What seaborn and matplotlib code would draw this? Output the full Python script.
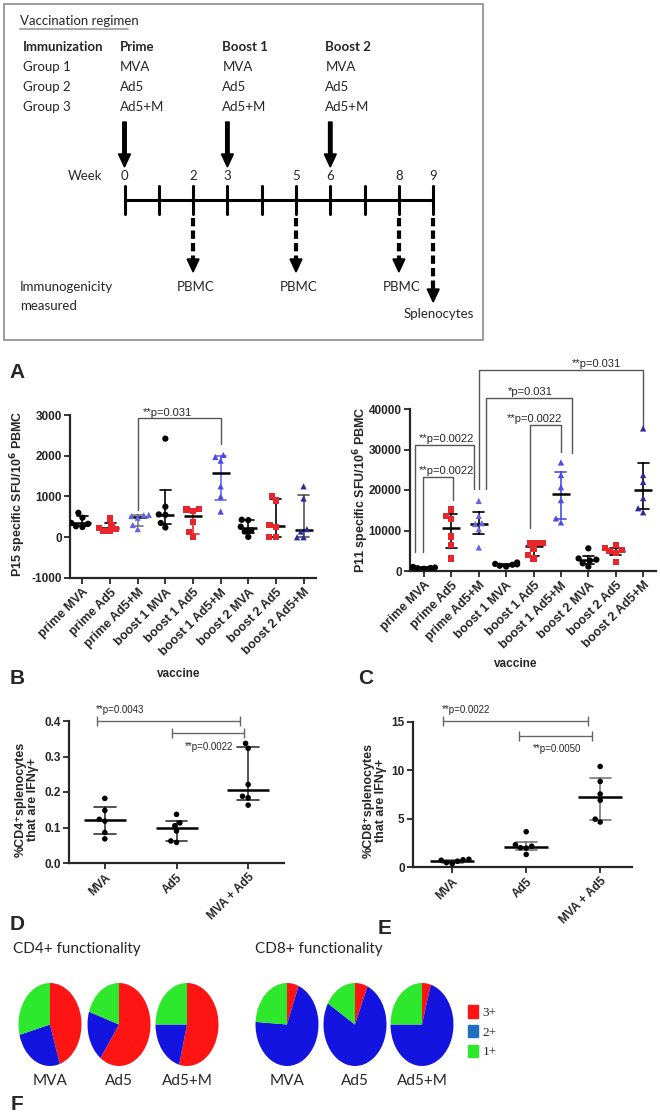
import matplotlib
matplotlib.use("Agg")
import matplotlib.pyplot as plt
import seaborn as sns
import numpy as np
import pandas as pd
from matplotlib.patches import Rectangle, Patch


# ---------------- data ----------------
groups = ["prime MVA", "prime Ad5", "prime Ad5+M",
          "boost 1 MVA", "boost 1 Ad5", "boost 1 Ad5+M",
          "boost 2 MVA", "boost 2 Ad5", "boost 2 Ad5+M"]

# P15 specific SFU / 10^6 PBMC (6 mice per group)
p15_values = [
    [600, 480, 350, 330, 270, 250],
    [460, 300, 230, 200, 160, 150],
    [550, 540, 520, 480, 300, 200],
    [2420, 750, 560, 550, 350, 240],
    [700, 680, 650, 380, 120, 0],
    [2020, 1970, 1880, 1250, 1000, 630],
    [430, 420, 260, 170, 140, 10],
    [1020, 900, 300, 260, 0, 0],
    [1250, 950, 200, 140, 0, 0],
]

# P11 specific SFU / 10^6 PBMC
p11_values = [
    [1000, 900, 850, 750, 700, 550],
    [15200, 13600, 12800, 8500, 6400, 3100],
    [17300, 13600, 11800, 11600, 10300, 5800],
    [2100, 1750, 1650, 1550, 1300, 1100],
    [7000, 6950, 6800, 5500, 4000, 3100],
    [26800, 23700, 20700, 17500, 13000, 12000],
    [5600, 3100, 2800, 2600, 1900, 1100],
    [6400, 5600, 5100, 4900, 4500, 2300],
    [35200, 23700, 22000, 18000, 15500, 14500],
]

spleen_groups = ["MVA", "Ad5", "MVA + Ad5"]
cd4_ifng = [[0.182, 0.148, 0.123, 0.118, 0.086, 0.068],
            [0.137, 0.113, 0.105, 0.090, 0.062, 0.058],
            [0.337, 0.323, 0.221, 0.188, 0.184, 0.163]]
cd8_ifng = [[0.80, 0.75, 0.70, 0.60, 0.45, 0.35],
            [3.65, 2.30, 2.15, 2.00, 1.95, 1.30],
            [10.4, 8.85, 7.55, 6.90, 4.95, 4.65]]

pie_groups = ["MVA", "Ad5", "Ad5+M"]
func_levels = ["3+", "2+", "1+"]
cd4_func = [[0.45, 0.26, 0.29], [0.60, 0.20, 0.20], [0.54, 0.21, 0.25]]
cd8_func = [[0.06, 0.70, 0.24], [0.065, 0.77, 0.165], [0.045, 0.705, 0.25]]

# vaccination schedule
regimen_groups = ["Group 1", "Group 2", "Group 3"]
regimen_vaccines = ["MVA", "Ad5", "Ad5+M"]
dose_names = ["Prime", "Boost 1", "Boost 2"]
dose_weeks = [0, 3, 6]
sample_weeks = [2, 5, 8, 9]
sample_names = ["PBMC", "PBMC", "PBMC", "Splenocytes"]
all_weeks = list(range(10))


# ---------------- style ----------------
sns.set_style("ticks")
plt.rcParams['font.family'] = ['Liberation Sans', 'DejaVu Sans']
plt.rcParams['axes.unicode_minus'] = False
NARROW = ['Lato', 'Liberation Sans', 'DejaVu Sans']

W, H = 660, 1113
fig = plt.figure(figsize=(W / 100, H / 100), dpi=100)


def px_axes(x0, y0, x1, y1):
    ax = fig.add_axes([x0 / W, 1 - y1 / H, (x1 - x0) / W, (y1 - y0) / H])
    ax.patch.set_alpha(0)
    return ax


def long_form(names, values, col):
    rows = [(n, v) for n, vals in zip(names, values) for v in vals]
    return pd.DataFrame(rows, columns=["vaccine", col])


def iqr(v):
    # GraphPad style quartiles
    return (np.percentile(v, 25, method="weibull"),
            np.percentile(v, 75, method="weibull"))


def scatter_panel(ax, df, col, order, point_colors, markers, err_colors,
                  med_size, capsize, dot_size=4.5):
    for m in dict.fromkeys(markers):
        keep = [g for g, mm in zip(order, markers) if mm == m]
        sub = df[df["vaccine"].isin(keep)]
        sns.swarmplot(data=sub, x="vaccine", y=col, order=order, hue="vaccine",
                      palette=dict(zip(order, point_colors)), marker=m,
                      size=dot_size, legend=False, ax=ax, zorder=3)
    sns.pointplot(data=df, x="vaccine", y=col, order=order, hue="vaccine",
                  palette=dict(zip(order, err_colors)), estimator="median",
                  errorbar=iqr, capsize=capsize, linestyle="none", markersize=0,
                  err_kws={"linewidth": 1.2}, legend=False, ax=ax)
    sns.pointplot(data=df, x="vaccine", y=col, order=order, color="black",
                  estimator="median", errorbar=None, linestyle="none",
                  marker="_", markersize=med_size, markeredgewidth=1.8, ax=ax)
    ax.set_xlabel("")


def style_axes(ax, order, fs_tick, fs_x):
    sns.despine(ax=ax)
    for s in ["left", "bottom"]:
        ax.spines[s].set_linewidth(1.6)
    ax.tick_params(width=1.3, length=4, labelsize=fs_tick, pad=2)
    ax.set_xticks(range(len(order)))
    ax.set_xticklabels(order, rotation=45, ha="right", rotation_mode="anchor",
                       fontweight="bold", fontsize=fs_x)
    for lab in ax.get_yticklabels():
        lab.set_fontweight("bold")


def bracket(ax, x1, x2, top, b1, b2, text, tx, fs=8):
    ax.plot([x1, x1, x2, x2], [b1, top, top, b2], color="#555555", lw=1.0,
            clip_on=False)
    ax.annotate(text, (tx, top), xytext=(0, 0.5), textcoords="offset points",
                ha="center", va="bottom", fontsize=fs, annotation_clip=False)


def span(ax, x1, x2, y, text, tx, ty, fs=7):
    ax.plot([x1, x2], [y, y], color="#666666", lw=1.0, marker="|",
            markersize=7, markeredgewidth=1.0, clip_on=False)
    ax.text(tx, ty, text, ha="center", va="center", fontsize=fs, clip_on=False)


mk = ["o", "s", "^"] * 3
pt_cols = ["black", "#e8262b", "#6464e6", "black", "#e8262b", "#4b4bea",
           "black", "#e8262b", "#2b2b9c"]

# ---------------- A (left): P15 ----------------
axA = px_axes(70, 415, 316, 578)
dfA = long_form(groups, p15_values, "sfu")
scatter_panel(axA, dfA, "sfu", groups, pt_cols, mk,
              ["black", "black", "#777777", "black", "#e8262b", "#6b6bef",
               "black", "black", "#555555"], med_size=13, capsize=0.4)
axA.set_ylim(-1000, 3000)
axA.set_yticks([-1000, 0, 1000, 2000, 3000])
axA.set_xlim(-0.45, 8.45)
style_axes(axA, groups, 8.5, 9)
axA.set_ylabel("P15 specific SFU/10$^{\\mathbf{6}}$ PBMC", fontweight="bold",
               fontsize=9)
axA.yaxis.set_label_coords(-0.17, 0.52)
axA.set_xlabel("vaccine", fontweight="bold", fontsize=8.5)
axA.xaxis.set_label_coords(0.44, -0.55)
bracket(axA, 2, 5, 2920, 660, 2300, "**p=0.031", 3.08)

# ---------------- A (right): P11 ----------------
axR = px_axes(410, 409, 656, 571)
dfR = long_form(groups, p11_values, "sfu")
scatter_panel(axR, dfR, "sfu", groups, pt_cols, mk,
              ["black"] * 5 + ["#4b4bea"] + ["black"] * 3,
              med_size=13, capsize=0.4)
axR.set_ylim(0, 40000)
axR.set_yticks([0, 10000, 20000, 30000, 40000])
axR.set_xlim(-0.51, 8.47)
style_axes(axR, groups, 8.5, 9)
axR.set_ylabel("P11 specific SFU/10$^{\\mathbf{6}}$ PBMC", fontweight="bold",
               fontsize=9)
axR.yaxis.set_label_coords(-0.16, 0.5)
axR.set_xlabel("vaccine", fontweight="bold", fontsize=8.5)
axR.xaxis.set_label_coords(0.43, -0.54)
bracket(axR, -0.04, 1.07, 23200, 4700, 17500, "**p=0.0022", 0.82)
bracket(axR, -0.33, 1.82, 31100, 4700, 20250, "**p=0.0022", 0.82)
bracket(axR, 2.0, 8.0, 49600, 20250, 35550, "**p=0.031", 6.3)
bracket(axR, 2.26, 5.39, 42700, 20250, 29100, "*p=0.031", 3.87)
bracket(axR, 3.87, 5.0, 36050, 10600, 29400, "**p=0.0022", 4.05)

# ---------------- B: CD4 ----------------
axB = px_axes(69, 721, 284, 863)
dfB = long_form(spleen_groups, cd4_ifng, "pct")
scatter_panel(axB, dfB, "pct", spleen_groups, ["black"] * 3, ["o"] * 3,
              ["#333333"] * 3, med_size=30, capsize=0.3, dot_size=4)
axB.set_ylim(0, 0.4)
axB.set_yticks([0, 0.1, 0.2, 0.3, 0.4])
axB.set_yticklabels(["0.0", "0.1", "0.2", "0.3", "0.4"])
axB.set_xlim(-0.5, 2.5)
style_axes(axB, spleen_groups, 8.5, 8.5)
axB.set_ylabel("%CD4⁺splenocytes\nthat are IFNγ+", fontweight="bold",
               fontsize=9, linespacing=1.0)
axB.yaxis.set_label_coords(-0.14, 0.45)
span(axB, -0.11, 1.89, 0.401, "**p=0.0043", 0.21, 0.432)
span(axB, 0.94, 1.94, 0.367, "**p=0.0022", 1.46, 0.327)

# ---------------- C: CD8 ----------------
axC = px_axes(413, 722, 632, 867)
dfC = long_form(spleen_groups, cd8_ifng, "pct")
scatter_panel(axC, dfC, "pct", spleen_groups, ["black"] * 3, ["o"] * 3,
              ["#777777"] * 3, med_size=32, capsize=0.28, dot_size=4)
axC.set_ylim(0, 15)
axC.set_yticks([0, 5, 10, 15])
axC.set_xlim(-0.53, 2.43)
style_axes(axC, spleen_groups, 8.5, 8.5)
axC.set_ylabel("%CD8⁺splenocytes\nthat are IFNγ+", fontweight="bold",
               fontsize=9, linespacing=1.0)
axC.yaxis.set_label_coords(-0.12, 0.46)
span(axC, -0.13, 1.84, 15.06, "**p=0.0022", 0.19, 16.2)
span(axC, 0.9, 1.89, 13.58, "**p=0.0050", 1.42, 12.2)

# ---------------- D / E: pies ----------------
pie_colors = ["#ff1414", "#1414e0", "#2ee82e"]
legend_colors = ["#ff1414", "#1f6fc0", "#2ee82e"]
pie_x = {"CD4": [50, 119, 187], "CD8": [287, 355, 422]}
for key, fracs in [("CD4", cd4_func), ("CD8", cd8_func)]:
    for cx, frac, name in zip(pie_x[key], fracs, pie_groups):
        ax = px_axes(cx - 31.5, 983, cx + 31.5, 1066)
        ax.pie(frac, colors=pie_colors, startangle=90, counterclock=False,
               wedgeprops=dict(linewidth=0))
        ax.set_aspect("auto")
        ax.set_xlim(-1, 1)
        ax.set_ylim(-1, 1)
        ax.text(0.5, -0.18, name, transform=ax.transAxes, ha="center",
                va="center", fontsize=11, family=NARROW)

fig.legend(handles=[Patch(color=c) for c in legend_colors], labels=func_levels,
           loc="upper left", bbox_to_anchor=(468 / W, 1 - 1005 / H),
           frameon=False, prop={"family": "Liberation Serif", "size": 9.5},
           handlelength=0.75, handleheight=1.1, labelspacing=0.45,
           handletextpad=0.35, borderpad=0, borderaxespad=0)

# ---------------- overlay: schematic, letters, titles ----------------
ax0 = fig.add_axes([0, 0, 1, 1])
ax0.set_xlim(0, W)
ax0.set_ylim(H, 0)
ax0.axis("off")
ax0.patch.set_alpha(0)


def wx(w):
    return 124.5 + 34.3 * w


ax0.add_patch(Rectangle((4, 4), 479, 336, fill=False, ec="#8c8c8c", lw=1.2))
txt = dict(family=NARROW, fontsize=9.5, va="center")
ax0.text(20, 21, "Vaccination regimen", ha="left", **txt)
ax0.plot([20, 128], [28.5, 28.5], color="#aaaaaa", lw=1.5)
ax0.text(23, 47, "Immunization", ha="left", fontweight="bold", **txt)
for i, g in enumerate(regimen_groups):
    ax0.text(23, 67 + 20 * i, g, ha="left", **txt)
for name, w in zip(dose_names, dose_weeks):
    ax0.text(wx(w) - 5, 47, name, ha="left", fontweight="bold", **txt)
    for i, v in enumerate(regimen_vaccines):
        ax0.text(wx(w) - 5, 67 + 20 * i, v, ha="left", **txt)
    ax0.arrow(wx(w), 122, 0, 45, width=3.5, head_width=12, head_length=13,
              length_includes_head=True, fc="black", ec="black")

ax0.text(85, 176, "Week", ha="center", **txt)
ax0.plot([wx(all_weeks[0]), wx(all_weeks[-1])], [200, 200], color="black", lw=2.2)
for w in all_weeks:
    ax0.plot([wx(w)] * 2, [186, 214], color="black", lw=2.2)
for w in sorted(dose_weeks + sample_weeks):
    ax0.text(wx(w), 176, str(w), ha="center", **txt)

for w, name in zip(sample_weeks, sample_names):
    end = 302 if name == "Splenocytes" else 272
    ax0.plot([wx(w)] * 2, [218, end - 12], color="black", lw=3, dashes=(2, 1))
    ax0.arrow(wx(w), end - 13, 0, 13, width=0.1, head_width=12, head_length=13,
              length_includes_head=True, fc="black", ec="black")
    if name == "Splenocytes":
        ax0.text(wx(w) + 6, 314, name, ha="center", **txt)
    else:
        ax0.text(wx(w) + 3, 287, name, ha="center", **txt)
ax0.text(20, 287, "Immunogenicity", ha="left", **txt)
ax0.text(20, 306, "measured", ha="left", **txt)

letter = dict(fontsize=15, fontweight="bold", ha="center", va="center")
for lab, x, y in [("A", 17, 373), ("B", 17, 678), ("C", 366, 678),
                  ("D", 17, 924), ("E", 385, 929), ("F", 17, 1105)]:
    ax0.text(x, y, lab, **letter)
ax0.text(13, 949, "CD4+ functionality", ha="left", va="center", fontsize=11,
         family=NARROW)
ax0.text(255, 949, "CD8+ functionality", ha="left", va="center", fontsize=11,
         family=NARROW)

fig.savefig("out.png", dpi=100)
